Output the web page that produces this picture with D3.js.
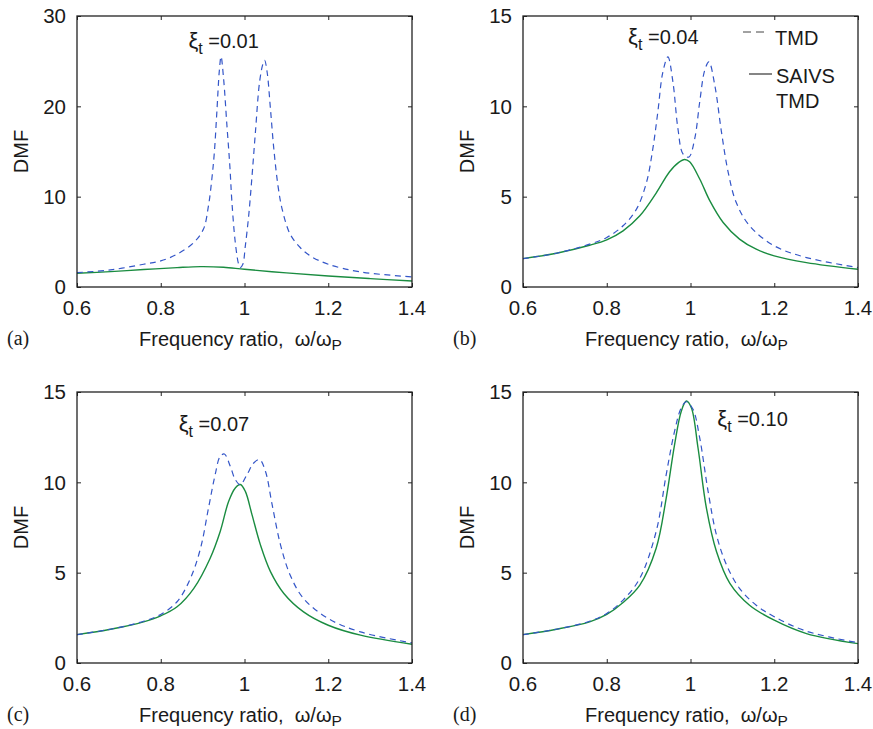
<!DOCTYPE html>
<html>
<head>
<meta charset="utf-8">
<script src="https://cdn.jsdelivr.net/npm/d3@7"></script>
<style>
    body { margin: 0; background: #fff; }
    svg { display: block; }
    text { font-family: "Liberation Sans", Arial, sans-serif; fill: #1a1a1a; }
    .letter { font-family: "Liberation Serif", "Times New Roman", serif; }
</style>
</head>
<body>
<svg id="chart" width="873" height="729"></svg>
<script>
// frequency ratio / DMF pairs
var tmdA = [[0.600, 1.59], [0.680, 1.89], [0.759, 2.52], [0.800, 2.89], [0.839, 3.63], [0.879, 4.93],
    [0.902, 6.41], [0.914, 9.0], [0.922, 11.96], [0.928, 14.9], [0.934, 19.4], [0.940, 24.0],
    [0.944, 25.5], [0.950, 23.1], [0.958, 17.9], [0.965, 13.4], [0.970, 9.37], [0.978, 4.93],
    [0.986, 2.52], [0.990, 2.15], [0.996, 2.52], [1.002, 4.56], [1.010, 7.89], [1.018, 12.3],
    [1.026, 17.1], [1.036, 22.7], [1.044, 24.7], [1.048, 25.1], [1.054, 23.8], [1.062, 19.7],
    [1.070, 15.3], [1.080, 11.2], [1.090, 8.6], [1.109, 5.85], [1.133, 4.37], [1.157, 3.44],
    [1.200, 2.52], [1.277, 1.67], [1.400, 1.12]];
var saivsA = [[0.600, 1.52], [0.680, 1.70], [0.759, 1.93], [0.839, 2.15], [0.895, 2.26], [0.950, 2.19],
    [1.000, 1.96], [1.100, 1.56], [1.200, 1.22], [1.300, 0.93], [1.400, 0.67]];

var tmdB = [[0.600, 1.57], [0.680, 1.87], [0.759, 2.37], [0.800, 2.74], [0.839, 3.39], [0.871, 4.31],
    [0.895, 5.8], [0.910, 7.65], [0.922, 9.69], [0.934, 11.9], [0.946, 12.74], [0.958, 11.35],
    [0.970, 8.76], [0.982, 7.37], [0.996, 7.19], [1.010, 8.2], [1.022, 10.24], [1.034, 12.0],
    [1.044, 12.46], [1.058, 11.17], [1.074, 8.57], [1.090, 6.35], [1.109, 4.69], [1.141, 3.39],
    [1.200, 2.28], [1.277, 1.63], [1.400, 1.08]];
var saivsB = [[0.600, 1.57], [0.680, 1.87], [0.759, 2.31], [0.800, 2.61], [0.839, 3.11], [0.879, 3.94],
    [0.918, 5.2], [0.950, 6.38], [0.972, 6.9], [0.986, 7.06], [0.998, 6.93], [1.022, 5.98],
    [1.046, 4.78], [1.078, 3.57], [1.117, 2.65], [1.157, 2.09], [1.200, 1.72], [1.277, 1.35],
    [1.400, 0.98]];

var tmdC = [[0.600, 1.57], [0.680, 1.87], [0.759, 2.31], [0.800, 2.69], [0.839, 3.39], [0.871, 4.69],
    [0.895, 6.35], [0.914, 8.57], [0.930, 10.43], [0.942, 11.44], [0.952, 11.57], [0.966, 10.89],
    [0.978, 10.15], [0.990, 9.87], [1.006, 10.43], [1.022, 11.07], [1.036, 11.26], [1.050, 10.61],
    [1.066, 8.76], [1.086, 6.54], [1.109, 4.87], [1.141, 3.57], [1.200, 2.46], [1.277, 1.72],
    [1.400, 1.11]];
var saivsC = [[0.600, 1.57], [0.680, 1.87], [0.759, 2.28], [0.800, 2.61], [0.839, 3.11], [0.879, 4.13],
    [0.918, 5.8], [0.942, 7.28], [0.962, 8.94], [0.978, 9.69], [0.990, 9.88], [1.002, 9.5],
    [1.018, 8.2], [1.038, 6.54], [1.062, 5.06], [1.094, 3.85], [1.141, 2.83], [1.200, 2.09],
    [1.277, 1.54], [1.400, 1.04]];

var tmdD = [[0.600, 1.57], [0.680, 1.87], [0.759, 2.31], [0.800, 2.74], [0.839, 3.48], [0.879, 4.69],
    [0.918, 7.28], [0.942, 10.43], [0.962, 12.83], [0.978, 14.13], [0.990, 14.46], [1.006, 14.04],
    [1.022, 12.46], [1.042, 9.5], [1.062, 7.09], [1.086, 5.43], [1.117, 4.13], [1.157, 3.2],
    [1.200, 2.56], [1.277, 1.76], [1.400, 1.12]];
var saivsD = [[0.600, 1.57], [0.680, 1.87], [0.759, 2.28], [0.800, 2.69], [0.839, 3.35], [0.879, 4.31],
    [0.918, 6.35], [0.942, 9.13], [0.962, 12.09], [0.978, 13.94], [0.990, 14.5], [1.002, 14.13],
    [1.018, 11.9], [1.038, 8.57], [1.062, 6.17], [1.094, 4.41], [1.141, 3.2], [1.200, 2.37],
    [1.277, 1.63], [1.400, 1.07]];

var xTicks = [0.6, 0.8, 1, 1.2, 1.4];
var yTicksA = [0, 10, 20, 30];
var yTicksBCD = [0, 5, 10, 15];
var xiLabels = ['0.01', '0.04', '0.07', '0.10'];
var panelLetters = ['(a)', '(b)', '(c)', '(d)'];
var legendLabels = ['TMD', 'SAIVS', 'TMD'];

(function (d3) {
    'use strict';

    var W = 335,
        H = 271,
        TICK = 4,
        BLUE = '#3456c8',
        GREEN = '#1a8c40',
        svg = d3.select('#chart'),
        panels = [
            {left: 77, top: 16, yMax: 30, yTicks: yTicksA, tmd: tmdA, saivs: saivsA, xi: xiLabels[0], xiAt: [0.866, 26.5]},
            {left: 523, top: 16, yMax: 15, yTicks: yTicksBCD, tmd: tmdB, saivs: saivsB, xi: xiLabels[1], xiAt: [0.851, 13.43], legend: true},
            {left: 77, top: 392, yMax: 15, yTicks: yTicksBCD, tmd: tmdC, saivs: saivsC, xi: xiLabels[2], xiAt: [0.843, 12.82]},
            {left: 523, top: 392, yMax: 15, yTicks: yTicksBCD, tmd: tmdD, saivs: saivsD, xi: xiLabels[3], xiAt: [1.064, 13.1]}
        ];

    function drawPanel(p, i) {
        var g = svg.append('g').attr('transform', 'translate(' + p.left + ',' + p.top + ')'),
            x = d3.scaleLinear().domain([0.6, 1.4]).range([0, W]),
            y = d3.scaleLinear().domain([0, p.yMax]).range([H, 0]),
            line = d3.line()
                .x(function (d) { return x(d[0]); })
                .y(function (d) { return y(d[1]); })
                .curve(d3.curveCatmullRom.alpha(0.5)),
            xt,
            xi,
            lg;

        // curves
        g.append('path').datum(p.saivs)
            .attr('d', line).attr('fill', 'none')
            .attr('stroke', GREEN).attr('stroke-width', 1.4);
        g.append('path').datum(p.tmd)
            .attr('d', line).attr('fill', 'none')
            .attr('stroke', BLUE).attr('stroke-width', 1.2)
            .attr('stroke-dasharray', '6,4.5');

        // matlab style box with inward ticks on all sides
        g.append('g').call(d3.axisBottom(x).tickValues(xTicks).tickSize(TICK).tickFormat(''))
            .attr('transform', 'translate(0,' + (H - TICK) + ')');
        g.append('g').call(d3.axisTop(x).tickValues(xTicks).tickSize(-TICK).tickFormat(''));
        g.append('g').call(d3.axisLeft(y).tickValues(p.yTicks).tickSize(-TICK).tickFormat(''));
        g.append('g').call(d3.axisRight(y).tickValues(p.yTicks).tickSize(-TICK).tickFormat(''))
            .attr('transform', 'translate(' + W + ',0)');
        g.selectAll('.domain').remove();
        g.selectAll('.tick line').attr('stroke', '#222');
        g.append('rect').attr('width', W).attr('height', H)
            .attr('fill', 'none').attr('stroke', '#222').attr('stroke-width', 1.3);

        // tick labels
        g.selectAll('.xlab').data(xTicks).enter().append('text')
            .attr('x', x).attr('y', H + 27.5)
            .attr('text-anchor', 'middle').style('font-size', '20.5px')
            .text(function (d) { return d3.format('')(d); });
        g.selectAll('.ylab').data(p.yTicks).enter().append('text')
            .attr('x', -11).attr('y', y).attr('dy', '0.36em')
            .attr('text-anchor', 'end').style('font-size', '20.5px')
            .text(function (d) { return d; });

        // axis titles
        xt = g.append('text').attr('x', W / 2 - 4).attr('y', H + 59)
            .attr('text-anchor', 'middle').style('font-size', '20px');
        xt.append('tspan').text('Frequency ratio,\u00a0 \u03c9/\u03c9');
        xt.append('tspan').attr('dy', 4).style('font-size', '15.5px').text('P');

        g.append('text')
            .attr('transform', 'translate(-49,' + (H / 2) + ') rotate(-90)')
            .attr('text-anchor', 'middle').style('font-size', '20px')
            .text('DMF');

        g.append('text').attr('class', 'letter')
            .attr('x', -70).attr('y', H + 58)
            .style('font-size', '20px')
            .text(panelLetters[i]);

        // damping annotation
        xi = g.append('text').attr('x', x(p.xiAt[0])).attr('y', y(p.xiAt[1]))
            .style('font-size', '20px');
        xi.append('tspan').style('font-size', '22px').text('\u03be');
        xi.append('tspan').attr('dy', 6).style('font-size', '16px').text('t');
        xi.append('tspan').attr('dy', -6).text('\u00a0=' + p.xi);

        if (p.legend) {
            lg = g.append('g');
            lg.append('line').attr('x1', 220).attr('x2', 242).attr('y1', 16).attr('y2', 16)
                .attr('stroke', '#444').attr('stroke-width', 1).attr('stroke-dasharray', '8,5');
            lg.append('text').attr('x', 252).attr('y', 29).style('font-size', '20px').text(legendLabels[0]);
            lg.append('line').attr('x1', 226).attr('x2', 249).attr('y1', 58).attr('y2', 58)
                .attr('stroke', '#222').attr('stroke-width', 1.1);
            lg.append('text').attr('x', 253).attr('y', 67).style('font-size', '20px').text(legendLabels[1]);
            lg.append('text').attr('x', 253).attr('y', 92).style('font-size', '20px').text(legendLabels[2]);
        }
    }

    panels.forEach(drawPanel);
}(window.d3));
</script>
</body>
</html>
